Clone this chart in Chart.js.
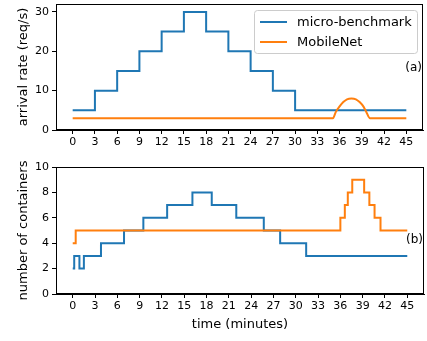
<!DOCTYPE html>
<html>
<head>
<meta charset="utf-8">
<script src="https://cdn.jsdelivr.net/npm/chart.js"></script>
<style>
  body { margin: 0; background: #fff; width: 427px; height: 341px; position: relative; overflow: hidden; }
  canvas { position: absolute; left: 0; }
  #top { top: 0; }
  #bottom { top: 150px; }
</style>
</head>
<body>
<canvas id="top" width="427" height="150"></canvas>
<canvas id="bottom" width="427" height="191"></canvas>
<script>
// datos del gráfico (a): tasa de llegada
const seriesNames = ['micro-benchmark', 'MobileNet'];
const rateMicroTimes = [0, 3, 6, 9, 12, 15, 18, 21, 24, 27, 30, 45];
const rateMicroValues = [5, 10, 15, 20, 25, 30, 25, 20, 15, 10, 5, 5];
const rateMobileTimes = [0, 35.1, 35.5, 36, 36.5, 37, 37.6, 38.2, 38.7, 39.2, 39.6, 40.1, 45];
const rateMobileValues = [3, 3, 4.6, 6.0, 7.1, 7.8, 8, 7.8, 7.1, 6.0, 4.6, 3, 3];

// datos del gráfico (b): número de contenedores
const contMicroTimes = [0, 0.2, 0.9, 1.5, 3.8, 6.9, 9.5, 12.7, 16.1, 18.7, 22.0, 25.7, 27.9, 31.4, 45];
const contMicroValues = [2, 3, 2, 3, 4, 5, 6, 7, 8, 7, 6, 5, 4, 3, 3];
const contMobileTimes = [0, 0.4, 36.0, 36.6, 37.0, 37.6, 39.2, 39.9, 40.6, 41.4, 45];
const contMobileValues = [4, 5, 6, 7, 8, 9, 8, 7, 6, 5, 5];

// ticks
const timeTicks = [0, 3, 6, 9, 12, 15, 18, 21, 24, 27, 30, 33, 36, 39, 42, 45];
const rateTicks = [0, 10, 20, 30];
const contTicks = [0, 2, 4, 6, 8, 10];

const BLUE = '#1f77b4';
const ORANGE = '#ff7f0e';
const FONT = "'DejaVu Sans', sans-serif";

// convierte cambios de escalón en puntos (x, y)
function stepPoints(times, values) {
  const pts = [];
  times.forEach((t, i) => {
    if (i > 0 && values[i - 1] !== values[i]) pts.push({ x: t, y: values[i - 1] });
    pts.push({ x: t, y: values[i] });
  });
  return pts;
}
function plainPoints(times, values) {
  return times.map((t, i) => ({ x: t, y: values[i] }));
}

// marco negro alrededor del área + etiqueta (a)/(b) + leyenda
const framePlugin = {
  id: 'frame',
  afterDraw(chart, args, opts) {
    const { ctx, chartArea: a } = chart;
    ctx.save();
    ctx.strokeStyle = '#000';
    ctx.lineWidth = 1;
    ctx.strokeRect(a.left + 0.5, a.top + 0.5, a.right - a.left - 1, a.bottom - a.top - 1);
    ctx.fillStyle = '#000';
    ctx.font = '12px ' + FONT;
    ctx.textAlign = 'right';
    ctx.textBaseline = 'middle';
    ctx.fillText(opts.tag, a.right - 1, a.top + opts.tagY);
    if (opts.legend) {
      const bx = 254, by = 10, bw = 163, bh = 43;
      ctx.fillStyle = 'rgba(255,255,255,0.8)';
      ctx.strokeStyle = '#cccccc';
      ctx.beginPath();
      ctx.roundRect(bx + 0.5, by + 0.5, bw, bh, 3);
      ctx.fill();
      ctx.stroke();
      ctx.font = '13px ' + FONT;
      ctx.textAlign = 'left';
      chart.data.datasets.forEach((ds, i) => {
        const y = by + 12 + i * 20;
        ctx.strokeStyle = ds.borderColor;
        ctx.lineWidth = 2;
        ctx.beginPath();
        ctx.moveTo(bx + 6, y);
        ctx.lineTo(bx + 33, y);
        ctx.stroke();
        ctx.fillStyle = '#000';
        ctx.fillText(ds.label, bx + 43, y + 1);
      });
    }
    ctx.restore();
  }
};

function crearGrafico(id, cfg) {
  return new Chart(document.getElementById(id), {
    type: 'line',
    data: {
      datasets: [
        { label: seriesNames[0], data: cfg.micro, borderColor: BLUE, borderWidth: 2, pointRadius: 0, order: 1, cubicInterpolationMode: cfg.mode },
        { label: seriesNames[1], data: cfg.mobile, borderColor: ORANGE, borderWidth: 2, pointRadius: 0, order: 0, cubicInterpolationMode: cfg.mode }
      ]
    },
    options: {
      responsive: false,
      animation: false,
      devicePixelRatio: 1,
      layout: { padding: cfg.padding },
      plugins: {
        legend: { display: false },
        tooltip: { enabled: false },
        frame: { tag: cfg.tag, tagY: cfg.tagY, legend: cfg.legend }
      },
      scales: {
        x: {
          type: 'linear',
          min: -2.25,
          max: 47.25,
          afterBuildTicks: s => { s.ticks = timeTicks.map(v => ({ value: v })); },
          afterFit: s => { s.height = cfg.xHeight; s.paddingLeft = 0; s.paddingRight = 0; },
          grid: { display: true, drawOnChartArea: false, color: '#000', tickLength: 4 },
          border: { color: '#000' },
          ticks: { color: '#000', font: { family: FONT, size: 11 }, padding: 2, maxRotation: 0, autoSkip: false },
          title: { display: !!cfg.xTitle, text: cfg.xTitle, color: '#000', font: { family: FONT, size: 13 }, padding: { top: 1, bottom: 0 } }
        },
        y: {
          min: 0,
          max: cfg.yMax,
          afterBuildTicks: s => { s.ticks = cfg.yTicks.map(v => ({ value: v })); },
          afterFit: s => { s.width = 56; s.paddingTop = 0; s.paddingBottom = 0; },
          grid: { display: true, drawOnChartArea: false, color: '#000', tickLength: 4 },
          border: { color: '#000' },
          ticks: { color: '#000', font: { family: FONT, size: 11 }, padding: 3 },
          title: { display: true, text: cfg.yTitle, color: '#000', font: { family: FONT, size: 13 }, padding: { top: 16, bottom: 0 } }
        }
      }
    },
    plugins: [framePlugin]
  });
}

crearGrafico('top', {
  micro: stepPoints(rateMicroTimes, rateMicroValues),
  mobile: plainPoints(rateMobileTimes, rateMobileValues),
  mode: 'monotone',
  padding: { top: 4, right: 4, left: 0, bottom: 0 },
  xHeight: 20,
  xTitle: '',
  yMax: 32,
  yTicks: rateTicks,
  yTitle: 'arrival rate (req/s)',
  tag: '(a)',
  tagY: 64,
  legend: true
});

crearGrafico('bottom', {
  micro: stepPoints(contMicroTimes, contMicroValues),
  mobile: stepPoints(contMobileTimes, contMobileValues),
  mode: 'default',
  padding: { top: 17, right: 3, left: 0, bottom: 9 },
  xHeight: 38,
  xTitle: 'time (minutes)',
  yMax: 10,
  yTicks: contTicks,
  yTitle: 'number of containers',
  tag: '(b)',
  tagY: 73,
  legend: false
});
</script>
</body>
</html>
